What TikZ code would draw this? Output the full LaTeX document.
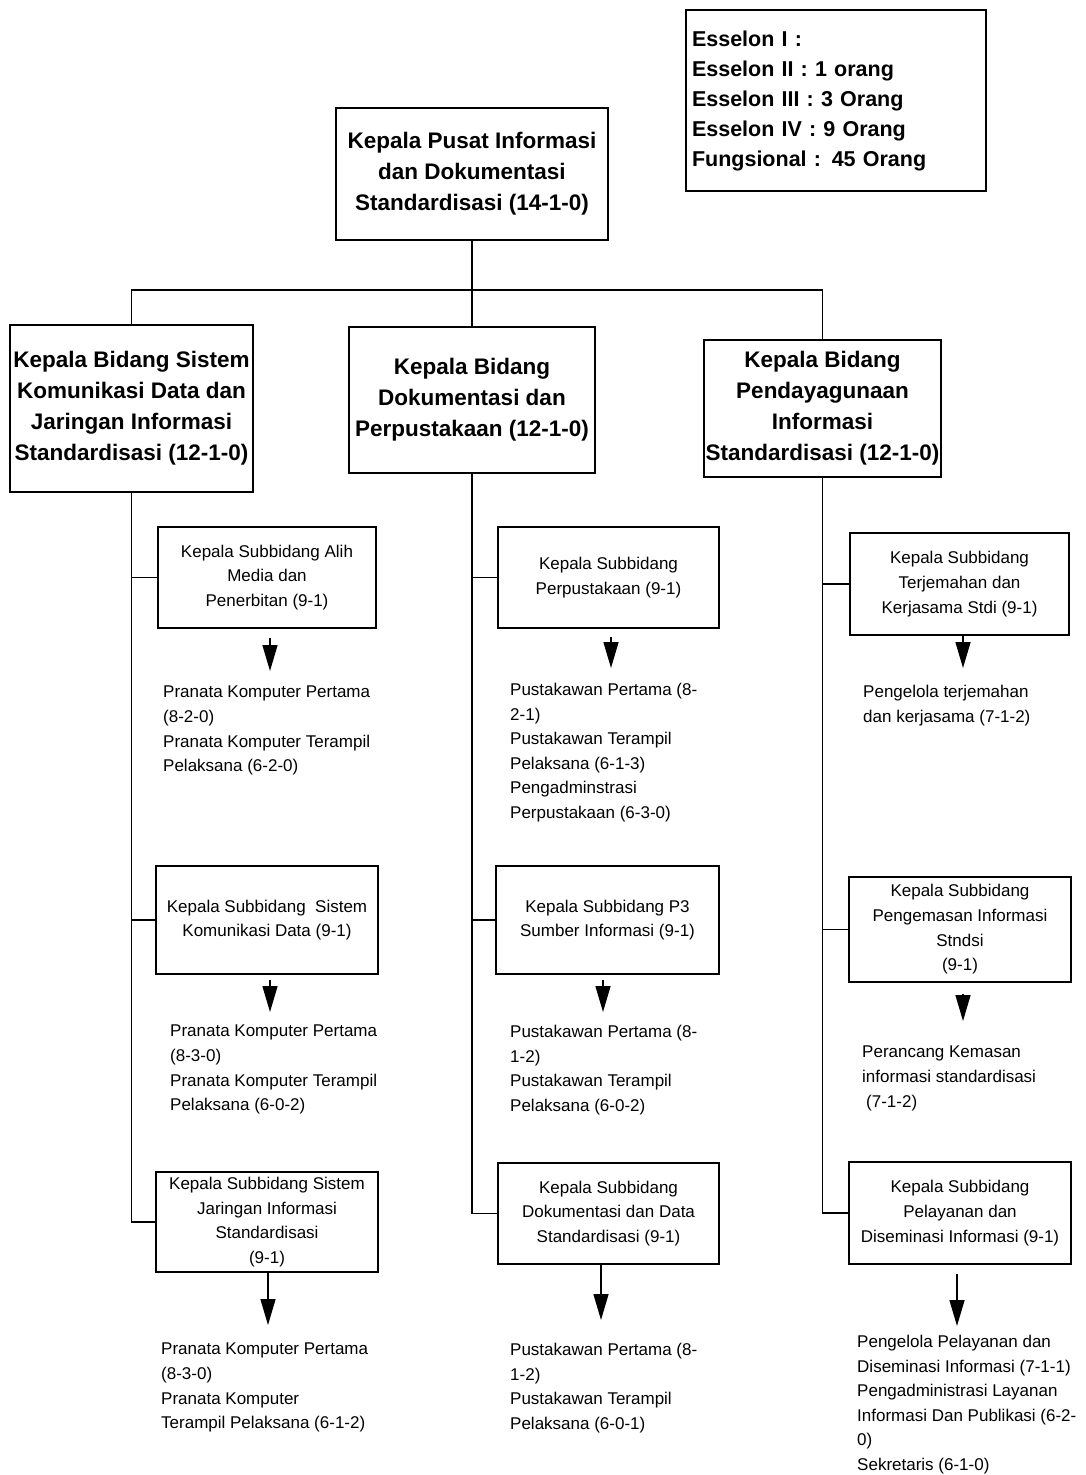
\documentclass[tikz,border=0pt]{standalone}
\usepackage{fontspec}
\setmainfont{Liberation Sans}
\usetikzlibrary{arrows.meta}
\begin{document}
\begin{tikzpicture}[x=1pt,y=-1pt,
  box/.style={draw, line width=1.1pt, inner sep=0pt, align=center},
  headbox/.style={box, font=\fontsize{22.5}{31}\selectfont\bfseries},
  subbox/.style={box, font=\fontsize{17}{24.7}\selectfont},
  listtext/.style={anchor=north west, inner sep=0pt, align=left, font=\fontsize{17}{24.6}\selectfont},
  link/.style={line width=1.5pt},
  arr/.style={line width=1.5pt, -{Triangle[length=26pt,width=15pt]}}]
\useasboundingbox (0,0) rectangle (1085,1475);

% legend
\node[box, font=\fontsize{21.5}{30}\selectfont\bfseries, minimum width=300pt, minimum height=181pt,
      text width=288pt, align=left, inner xsep=6pt] (ess) at (836,100.5)
  {Esselon I :\\Esselon II : 1 orang\\Esselon III : 3 Orang\\Esselon IV : 9 Orang\\Fungsional : 45 Orang};

% head
\node[headbox, minimum width=272pt, minimum height=132pt] (top) at (472,174)
  {Kepala Pusat Informasi\\dan Dokumentasi\\Standardisasi (14-1-0)};

% bidang
\node[headbox, minimum width=243pt, minimum height=167pt] (lb) at (131.5,408.5)
  {Kepala Bidang Sistem\\Komunikasi Data dan\\Jaringan Informasi\\Standardisasi (12-1-0)};
\node[headbox, minimum width=246pt, minimum height=146pt] (mb) at (472,400)
  {Kepala Bidang\\Dokumentasi dan\\Perpustakaan (12-1-0)};
\node[headbox, minimum width=237pt, minimum height=137pt] (rb) at (822.5,408.5)
  {Kepala Bidang\\Pendayagunaan\\Informasi\\Standardisasi (12-1-0)};

% subbidang left
\node[subbox, minimum width=218pt, minimum height=101pt] (lsb1) at (267,577.5)
  {Kepala Subbidang Alih\\Media dan\\Penerbitan (9-1)};
\node[subbox, minimum width=222pt, minimum height=108pt] (lsb2) at (267,920)
  {Kepala Subbidang~ Sistem\\Komunikasi Data (9-1)};
\node[subbox, minimum width=222pt, minimum height=100pt] (lsb3) at (267,1222)
  {Kepala Subbidang Sistem\\Jaringan Informasi\\Standardisasi\\(9-1)};

% subbidang middle
\node[subbox, minimum width=221pt, minimum height=101pt] (msb1) at (608.5,577.5)
  {Kepala Subbidang\\Perpustakaan (9-1)};
\node[subbox, minimum width=223pt, minimum height=108pt] (msb2) at (607.5,920)
  {Kepala Subbidang P3\\Sumber Informasi (9-1)};
\node[subbox, minimum width=221pt, minimum height=101pt] (msb3) at (608.5,1213.5)
  {Kepala Subbidang\\Dokumentasi dan Data\\Standardisasi (9-1)};

% subbidang right
\node[subbox, minimum width=219pt, minimum height=102pt] (rsb1) at (959.5,584)
  {Kepala Subbidang\\Terjemahan dan\\Kerjasama Stdi (9-1)};
\node[subbox, minimum width=222pt, minimum height=105pt] (rsb2) at (960,929.5)
  {Kepala Subbidang\\Pengemasan Informasi\\Stndsi\\(9-1)};
\node[subbox, minimum width=222pt, minimum height=102pt] (rsb3) at (960,1213)
  {Kepala Subbidang\\Pelayanan dan\\Diseminasi Informasi (9-1)};

% staff lists
\node[listtext] (lt1) at (163,686) {Pranata Komputer Pertama\\(8-2-0)\\Pranata Komputer Terampil\\Pelaksana (6-2-0)};
\node[listtext] (lt2) at (170,1025) {Pranata Komputer Pertama\\(8-3-0)\\Pranata Komputer Terampil\\Pelaksana (6-0-2)};
\node[listtext] (lt3) at (161,1343) {Pranata Komputer Pertama\\(8-3-0)\\Pranata Komputer\\Terampil Pelaksana (6-1-2)};
\node[listtext] (mt1) at (510,683) {Pustakawan Pertama (8-\\2-1)\\Pustakawan Terampil\\Pelaksana (6-1-3)\\Pengadminstrasi\\Perpustakaan (6-3-0)};
\node[listtext] (mt2) at (510,1025) {Pustakawan Pertama (8-\\1-2)\\Pustakawan Terampil\\Pelaksana (6-0-2)};
\node[listtext] (mt3) at (510,1343) {Pustakawan Pertama (8-\\1-2)\\Pustakawan Terampil\\Pelaksana (6-0-1)};
\node[listtext] (rt1) at (863,685) {Pengelola terjemahan\\dan kerjasama (7-1-2)};
\node[listtext] (rt2) at (862,1046) {Perancang Kemasan\\informasi standardisasi\\\hspace*{4pt}(7-1-2)};
\node[listtext] (rt3) at (857,1335) {Pengelola Pelayanan dan\\Diseminasi Informasi (7-1-1)\\Pengadministrasi Layanan\\Informasi Dan Publikasi (6-2-\\0)\\Sekretaris (6-1-0)};

% tree connectors
\coordinate (bus) at (472,290);
\draw[link] (top.south) -- (bus);
\draw[link] (lb.north) -- (lb.north |- bus) -- (rb.north |- bus) -- (rb.north);
\draw[link] (mb.north) -- (mb.north |- bus);

\draw[link] (lb.south) |- (lsb3.west);
\draw[link] (lsb1.west) -- (lsb1.west -| lb.south);
\draw[link] (lsb2.west) -- (lsb2.west -| lb.south);

\draw[link] (mb.south) |- (msb3.west);
\draw[link] (msb1.west) -- (msb1.west -| mb.south);
\draw[link] (msb2.west) -- (msb2.west -| mb.south);

\draw[link] (rb.south) |- (rsb3.west);
\draw[link] (rsb1.west) -- (rsb1.west -| rb.south);
\draw[link] (rsb2.west) -- (rsb2.west -| rb.south);

% arrows to staff lists
\coordinate (la1) at (270,638); \coordinate (lb1) at (270,671);
\coordinate (la2) at (270,980); \coordinate (lb2) at (270,1012);
\coordinate (la3) at (268,1272); \coordinate (lb3) at (268,1325);
\coordinate (ma1) at (611,637); \coordinate (mb1) at (611,668);
\coordinate (ma2) at (603,980); \coordinate (mb2) at (603,1012);
\coordinate (ma3) at (601,1264); \coordinate (mb3) at (601,1320);
\coordinate (ra1) at (963,635); \coordinate (rb1) at (963,668);
\coordinate (ra2) at (963,994); \coordinate (rb2) at (963,1021);
\coordinate (ra3) at (957,1274); \coordinate (rb3) at (957,1326);
\draw[arr] (la1) -- (lb1);
\draw[arr] (la2) -- (lb2);
\draw[arr] (la3) -- (lb3);
\draw[arr] (ma1) -- (mb1);
\draw[arr] (ma2) -- (mb2);
\draw[arr] (ma3) -- (mb3);
\draw[arr] (ra1) -- (rb1);
\draw[arr] (ra2) -- (rb2);
\draw[arr] (ra3) -- (rb3);
\end{tikzpicture}
\end{document}
